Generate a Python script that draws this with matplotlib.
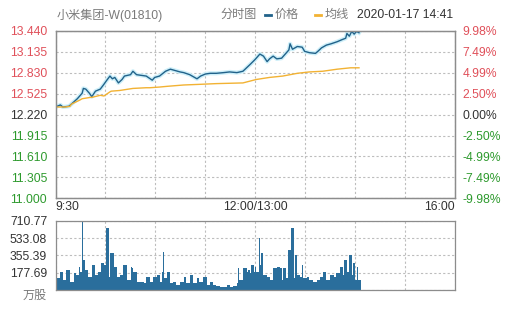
import matplotlib
matplotlib.use('Agg')
import matplotlib.pyplot as plt
import numpy as np

plt.rcParams['font.family'] = ['Liberation Sans', 'Noto Sans CJK SC', 'DejaVu Sans']

# trading minutes since 9:30 (lunch break removed), 330 minutes in total
price_min = [0, 4, 6, 11, 13, 18, 22, 23, 25, 28, 30, 33, 37, 40, 42, 45, 47, 49, 52, 55,
             57, 62, 64, 67, 71, 75, 80, 82, 86, 91, 95, 99, 103, 106, 111, 117, 120, 124, 128, 133,
             139, 144, 150, 155, 161, 165, 169, 172, 175, 177, 180, 183, 187, 193, 194, 196, 200, 204, 206, 210,
             215, 217, 220, 224, 228, 233, 237, 240, 241, 243, 245, 247, 249, 251]
price = [12.33, 12.36, 12.33, 12.34, 12.37, 12.45, 12.53, 12.60, 12.59, 12.53, 12.48, 12.56, 12.59, 12.66, 12.71, 12.78, 12.74, 12.76, 12.68, 12.73,
         12.78, 12.80, 12.85, 12.80, 12.79, 12.78, 12.72, 12.76, 12.78, 12.85, 12.88, 12.86, 12.84, 12.83, 12.80, 12.74, 12.78, 12.81, 12.82, 12.82,
         12.83, 12.84, 12.83, 12.85, 12.95, 13.02, 13.10, 13.07, 12.99, 13.03, 13.07, 13.03, 13.04, 13.16, 13.25, 13.17, 13.21, 13.20, 13.14, 13.12,
         13.11, 13.14, 13.19, 13.23, 13.25, 13.28, 13.31, 13.33, 13.40, 13.36, 13.43, 13.39, 13.43, 13.41]

avg_min = [0, 8, 12, 13, 20, 22, 29, 30, 37, 40, 45, 46, 53, 64, 75, 78, 86, 92, 106, 120,
           133, 155, 166, 177, 188, 200, 210, 221, 233, 244, 251]
avg = [12.33, 12.33, 12.34, 12.37, 12.43, 12.45, 12.47, 12.47, 12.50, 12.49, 12.55, 12.56, 12.57, 12.60, 12.61, 12.61, 12.62, 12.63, 12.65, 12.66,
       12.67, 12.68, 12.73, 12.76, 12.78, 12.82, 12.84, 12.85, 12.88, 12.90, 12.90]

vol_min = [1, 4, 6, 9, 12, 15, 17, 19, 20, 22, 23, 24, 27, 30, 33, 35, 38, 40, 42, 44,
           45, 48, 51, 53, 56, 59, 62, 63, 64, 67, 70, 73, 75, 78, 81, 84, 86, 88, 89, 90,
           92, 95, 97, 100, 103, 106, 108, 111, 114, 117, 119, 122, 125, 128, 130, 133, 136, 139, 142, 144,
           147, 150, 151, 152, 155, 158, 159, 161, 162, 164, 165, 166, 168, 169, 170, 172, 175, 177, 180, 183,
           186, 187, 188, 191, 192, 194, 195, 197, 198, 200, 202, 204, 205, 208, 210, 213, 216, 219, 221, 224,
           227, 230, 232, 235, 238, 239, 241, 243, 245, 246, 248, 249, 250, 252]
vol = [120, 188, 103, 205, 85, 171, 154, 239, 188, 711, 308, 205, 137, 256, 154, 188, 273, 256, 632, 137,
       376, 239, 137, 154, 256, 103, 239, 222, 188, 85, 85, 68, 137, 85, 137, 154, 85, 188, 393, 120,
       188, 68, 85, 51, 85, 137, 68, 154, 68, 120, 85, 137, 51, 85, 51, 41, 27, 34, 51, 34,
       41, 68, 222, 103, 222, 188, 205, 171, 256, 188, 239, 188, 530, 256, 376, 154, 137, 103, 222, 239,
       222, 103, 222, 120, 410, 410, 632, 120, 359, 154, 137, 256, 120, 137, 103, 85, 103, 137, 188, 103,
       154, 137, 171, 239, 154, 308, 188, 359, 154, 273, 103, 239, 103, 103]

price_ticks = ['11.000', '11.305', '11.610', '11.915', '12.220', '12.525', '12.830', '13.135', '13.440']
pct_ticks = ['-9.98%', '-7.49%', '-4.99%', '-2.50%', '0.00%', '2.50%', '4.99%', '7.49%', '9.98%']
vol_ticks = ['万股', '177.69', '355.39', '533.08', '710.77']
time_labels = ['9:30', '', '', '', '12:00/13:00', '', '', '', '16:00']

red = '#e0505a'
green = '#2e9a2e'
gray = '#7a7a7a'
dark = '#333333'
gridc = '#bdbdbd'

fig = plt.figure(figsize=(5.05, 3.10), dpi=100)
ax = fig.add_axes([0.110, 0.360, 0.790, 0.541])
axv = fig.add_axes([0.110, 0.0645, 0.790, 0.2235])

xt = np.linspace(0, 330, 9)
yt = np.linspace(11.0, 13.44, 9)

ax.plot(price_min, price, color='#cdeff9', lw=3, zorder=2)
ax.plot(price_min, price, color='#21628a', lw=1, zorder=3)
ax.plot(avg_min, avg, color='#f2b233', lw=1, zorder=3)
ax.set_xlim(0, 330)
ax.set_ylim(11.0, 13.44)
ax.set_xticks(xt)
ax.set_xticklabels(time_labels, fontsize=8.7, color=dark)
labs = ax.get_xticklabels()
labs[0].set_ha('left')
labs[-1].set_ha('right')
ax.set_yticks(yt)
ax.set_yticklabels(price_ticks, fontsize=8.7)
for i, t in enumerate(ax.get_yticklabels()):
    t.set_color(green if i < 4 else (dark if i == 4 else red))
ax.tick_params(length=0, pad=6)
ax.tick_params(axis='x', pad=2)
ax.grid(True, ls=(0, (2, 2)), color=gridc, lw=0.8)

ax2 = ax.twinx()
ax2.set_ylim(11.0, 13.44)
ax2.set_yticks(yt)
ax2.set_yticklabels(pct_ticks, fontsize=8.7)
for i, t in enumerate(ax2.get_yticklabels()):
    t.set_color(green if i < 4 else (dark if i == 4 else red))
ax2.tick_params(length=0, pad=6)

widths = np.diff(vol_min + [253])
axv.bar(vol_min, vol, width=widths, align='edge', color='#2a6e9c', lw=0)
axv.set_xlim(0, 330)
axv.set_ylim(0, 710.77)
axv.set_xticks(xt)
axv.set_xticklabels([])
axv.set_yticks([0, 177.69, 355.39, 533.08, 710.77])
axv.set_yticklabels(vol_ticks, fontsize=8.7, color=dark)
axv.get_yticklabels()[0].set_color(gray)
axv.get_yticklabels()[0].set_va('top')
axv.tick_params(length=0, pad=6)
axv.grid(True, ls=(0, (2, 2)), color=gridc, lw=0.8)

for a in (ax, ax2, axv):
    for s in a.spines.values():
        s.set_color('#8c8c8c')
        s.set_linewidth(0.9)
for a in (ax, axv):
    a.set_axisbelow(True)

# header row
fig.text(57 / 505, 1 - 15 / 310, '小米集团-W(01810)', fontsize=8.7, color=gray, va='center')
fig.text(220 / 505, 1 - 15 / 310, '分时图', fontsize=8.7, color=gray, va='center')
fig.lines.append(plt.Line2D([265 / 505, 271 / 505], [1 - 15 / 310] * 2, transform=fig.transFigure, color='#21628a', lw=2))
fig.text(275 / 505, 1 - 15 / 310, '价格', fontsize=8.7, color=gray, va='center')
fig.lines.append(plt.Line2D([315 / 505, 321 / 505], [1 - 15 / 310] * 2, transform=fig.transFigure, color='#f2b233', lw=2))
fig.text(325 / 505, 1 - 15 / 310, '均线', fontsize=8.7, color=gray, va='center')
fig.text(357 / 505, 1 - 15 / 310, '2020-01-17 14:41', fontsize=8.7, color=dark, va='center')

fig.savefig('out.png', dpi=100)
